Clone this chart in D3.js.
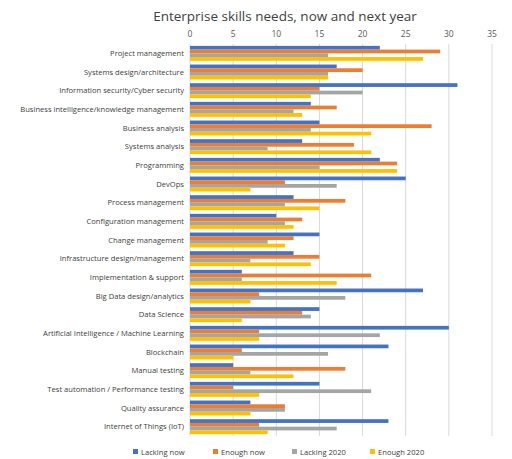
<!DOCTYPE html>
<html><head><meta charset="utf-8">
<script src="https://cdn.jsdelivr.net/npm/d3@7"></script>
<style>body{margin:0;background:#fff;font-family:"Open Sans","Liberation Sans",Arial,sans-serif}</style>
</head><body><div id="chart"></div>
<script>
const categories = ["Project management","Systems design/architecture","Information security/Cyber security","Business intelligence/knowledge management","Business analysis","Systems analysis","Programming","DevOps","Process management","Configuration management","Change management","Infrastructure design/management","Implementation & support","Big Data design/analytics","Data Science","Artificial Intelligence / Machine Learning","Blockchain","Manual testing","Test automation / Performance testing","Quality assurance","Internet of Things (IoT)"];
const seriesNames = ["Lacking now","Enough now","Lacking 2020","Enough 2020"];
const lackingNow = [22,17,31,14,15,13,22,25,12,10,15,12,6,27,15,30,23,5,15,7,23];
const enoughNow = [29,20,15,17,28,19,24,11,18,13,12,15,21,8,13,8,6,18,5,11,8];
const lacking2020 = [16,16,20,12,14,9,15,17,11,11,9,7,6,18,14,22,16,7,21,11,17];
const enough2020 = [27,16,14,13,21,21,24,7,15,12,11,14,17,7,6,8,5,12,8,7,9];
const xTicks = [0,5,10,15,20,25,30,35];
const colors = ["#4472c4","#ed7d31","#a5a5a5","#ffc000"];
const series = [lackingNow, enoughNow, lacking2020, enough2020];

const W = 512, H = 459;
const m = {top: 44, left: 190, right: 20, bottom: 23};
const svg = d3.select("#chart").append("svg").attr("width", W).attr("height", H);

const x = d3.scaleLinear().domain([0, 35]).range([m.left, W - m.right]);
const y = d3.scaleBand().domain(categories).range([m.top, H - m.bottom]).paddingInner(0.2).paddingOuter(0.1);
const yi = d3.scaleBand().domain(d3.range(4)).range([0, y.bandwidth()]);

svg.append("text").attr("x", 285).attr("y", 21).attr("text-anchor", "middle")
  .style("font-size", "13.5px").style("fill", "#404040").text("Enterprise skills needs, now and next year");

// gridlines
svg.append("g").selectAll("line").data(xTicks).join("line")
  .attr("x1", d => x(d)).attr("x2", d => x(d))
  .attr("y1", m.top).attr("y2", H - m.bottom)
  .attr("stroke", "#d9d9d9");

svg.append("g").selectAll("text").data(xTicks).join("text")
  .attr("x", d => x(d)).attr("y", 37).attr("text-anchor", "middle")
  .style("font-size", "8.5px").style("fill", "#595959").text(d => d);

// bars
series.forEach((vals, s) => {
  svg.append("g").selectAll("rect").data(vals).join("rect")
    .attr("x", x(0))
    .attr("y", (d, i) => y(categories[i]) + yi(s))
    .attr("width", d => x(d) - x(0))
    .attr("height", yi.bandwidth())
    .attr("fill", colors[s]);
});

svg.append("g").selectAll("text").data(categories).join("text")
  .attr("x", m.left - 6).attr("y", d => y(d) + y.bandwidth() / 2).attr("dy", "0.35em")
  .attr("text-anchor", "end").style("font-size", "7.6px").style("fill", "#404040").text(d => d);

// legend
const lg = svg.append("g").attr("transform", "translate(133,452)");
const offs = [0, 80, 159, 237];
seriesNames.forEach((n, i) => {
  lg.append("rect").attr("x", offs[i]).attr("y", -3).attr("width", 5).attr("height", 5).attr("fill", colors[i]);
  lg.append("text").attr("x", offs[i] + 8).attr("y", 0).attr("dy", "0.35em")
    .style("font-size", "7.6px").style("fill", "#404040").text(n);
});
</script></body></html>
